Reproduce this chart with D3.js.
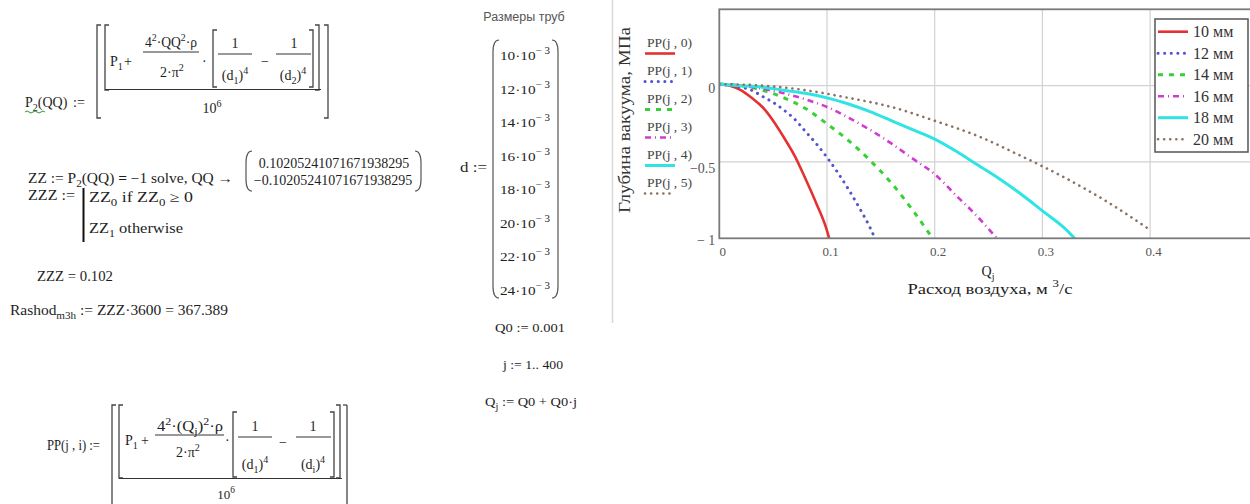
<!DOCTYPE html>
<html><head><meta charset="utf-8">
<script src="https://cdn.jsdelivr.net/npm/d3@7"></script>
<style>
body{margin:0;background:#fff}
svg{display:block}
text{font-family:"Liberation Serif","Times New Roman",serif;fill:#1e1e1e}
</style>
</head><body>
<svg id="c" width="1250" height="504"></svg>
<script>
// ---------- data ----------
const seriesNames = ["10 мм","12 мм","14 мм","16 мм","18 мм","20 мм"];
const traceLabels = ["PP(j , 0)","PP(j , 1)","PP(j , 2)","PP(j , 3)","PP(j , 4)","PP(j , 5)"];
const q_10 = [0,0.01,0.02,0.03,0.04,0.05,0.06,0.07,0.08,0.09,0.1,0.102];
const pp_10 = [0.01,0,-0.03,-0.08,-0.14,-0.23,-0.34,-0.46,-0.61,-0.77,-0.95,-1];
const q_12 = [0,0.01,0.02,0.03,0.04,0.05,0.06,0.07,0.08,0.09,0.1,0.11,0.12,0.13,0.14,0.1445];
const pp_12 = [0.01,0,-0.01,-0.03,-0.07,-0.11,-0.16,-0.22,-0.3,-0.38,-0.47,-0.57,-0.68,-0.8,-0.93,-1];
const q_14 = [0,0.02,0.04,0.06,0.08,0.1,0.12,0.14,0.16,0.18,0.198];
const pp_14 = [0.01,0,-0.03,-0.08,-0.15,-0.25,-0.36,-0.49,-0.64,-0.82,-1];
const q_16 = [0,0.02,0.04,0.06,0.08,0.1,0.12,0.14,0.16,0.18,0.2,0.22,0.24,0.2576];
const pp_16 = [0.01,0,-0.02,-0.05,-0.09,-0.14,-0.21,-0.29,-0.38,-0.48,-0.58,-0.72,-0.86,-1];
const q_18 = [0,0.02,0.04,0.06,0.08,0.1,0.12,0.14,0.16,0.18,0.2,0.22,0.24,0.26,0.28,0.3,0.32,0.33];
const pp_18 = [0.01,0,-0.01,-0.03,-0.05,-0.08,-0.12,-0.17,-0.23,-0.29,-0.35,-0.43,-0.52,-0.61,-0.71,-0.82,-0.93,-1];
const q_20 = [0,0.04,0.08,0.12,0.16,0.2,0.24,0.28,0.32,0.36,0.401];
const pp_20 = [0.01,0,-0.03,-0.08,-0.14,-0.23,-0.33,-0.46,-0.6,-0.76,-0.95];
const xTicks = [0,0.1,0.2,0.3,0.4];
const xTickLabels = ["0","0.1","0.2","0.3","0.4"];
const yTicks = [0,-0.5,-1];
const yTickLabels = ["0","\u22120.5","\u2212 1"];
const pipeSizes = ["10","12","14","16","18","20","22","24"];
const solveRoots = ["0.10205241071671938295","\u22120.10205241071671938295"];

const qs = [q_10,q_12,q_14,q_16,q_18,q_20];
const pps = [pp_10,pp_12,pp_14,pp_16,pp_18,pp_20];
const styles = [
  {c:"#e43232", w:2.6, d:null, cap:"butt"},
  {c:"#5454cc", w:3, d:"0.1,6.5", cap:"round"},
  {c:"#38d038", w:3, d:"5,6", cap:"butt"},
  {c:"#d03cd0", w:2.6, d:"6,4,1,4", cap:"butt"},
  {c:"#30e4e4", w:3, d:null, cap:"butt"},
  {c:"#8a7362", w:2.6, d:"0.1,6", cap:"round"}
];

const svg = d3.select("#c");

// ---------- helpers ----------
// parts: string or [string, mode]; mode 0 normal, 1 subscript, 2 superscript, 3 bold
function rich(x, y, parts, fs, anchor, len){
  fs = fs||14;
  const t = svg.append("text").attr("x",x).attr("y",y).attr("font-size",fs)
    .attr("text-anchor",anchor||"start");
  if (len) t.attr("textLength",len).attr("lengthAdjust","spacingAndGlyphs");
  let cur = 0;
  parts.forEach(p=>{
    const s = Array.isArray(p)?p[0]:p, m = Array.isArray(p)?p[1]:0;
    const off = m===1 ? fs*0.3 : m===2 ? -fs*0.45 : 0;
    const ts = t.append("tspan").text(s).attr("dy", off-cur);
    if (m===1 || m===2) ts.attr("font-size", fs*0.72);
    if (m===3) ts.attr("font-weight","bold");
    cur = off;
  });
  return t;
}
function hline(x1,x2,y,w){ svg.append("line").attr("x1",x1).attr("x2",x2).attr("y1",y).attr("y2",y)
  .attr("stroke","#333").attr("stroke-width",w||1); }
function brL(x,y1,y2,w){ svg.append("path").attr("d",`M${x+4},${y1}H${x}V${y2}H${x+4}`)
  .attr("fill","none").attr("stroke","#444").attr("stroke-width",w||1.3); }
function brR(x,y1,y2,w){ svg.append("path").attr("d",`M${x-4},${y1}H${x}V${y2}H${x-4}`)
  .attr("fill","none").attr("stroke","#444").attr("stroke-width",w||1.3); }
function parL(x,y1,y2){ svg.append("path").attr("d",`M${x+6},${y1}Q${x},${y1} ${x},${y1+12}V${y2-12}Q${x},${y2} ${x+6},${y2}`)
  .attr("fill","none").attr("stroke","#555").attr("stroke-width",1.2); }
function parR(x,y1,y2){ svg.append("path").attr("d",`M${x-6},${y1}Q${x},${y1} ${x},${y1+12}V${y2-12}Q${x},${y2} ${x-6},${y2}`)
  .attr("fill","none").attr("stroke","#555").attr("stroke-width",1.2); }

// ---------- block 1: P2(QQ) ----------
rich(25,107,["P",["2",1],"(QQ)"]);
rich(73,107,[":="]);
svg.append("path").attr("d","M25,112 q2,-2 4,0 t4,0 t4,0 t4,0 t4,0").attr("fill","none").attr("stroke","#2a9a2a").attr("stroke-width",1);
brL(97,25,118); brR(328,25,118);
brL(105,25,90); brR(319,25,90);
hline(105,321,89.5,1.2);
rich(110,66,["P",["1",1]]);
rich(124,66,["+"]);
rich(145,47,["4",["2",2],"·QQ",["2",2],"·ρ"],14,"start",52);
hline(143,199,52);
rich(160,77,["2·π",["2",2]]);
rich(202,66,["·"]);
brL(213,30,87); brR(313,30,87);
rich(235,48,["1"],14,"middle");
hline(218,252,54);
rich(235,80,["(d",["1",1],")",["4",2]],14,"middle");
rich(265,66,["\u2212"],14,"middle");
rich(294,48,["1"],14,"middle");
hline(276,311,54);
rich(293,80,["(d",["2",1],")",["4",2]],14,"middle");
rich(212,113,["10",["6",2]],14,"middle");

// ---------- block 2: solve ----------
rich(28,183,["ZZ := P",["2",1],"(QQ) ",["=",3]," \u22121 solve, QQ  \u2192"],14,"start",205);
parL(246,151,191); parR(421,151,191);
rich(334,168,[solveRoots[0]],14,"middle");
rich(333,185,[solveRoots[1]],14,"middle");
rich(28,200,["ZZZ :="],14,"start",47);
svg.append("line").attr("x1",83.5).attr("x2",83.5).attr("y1",188).attr("y2",242).attr("stroke","#111").attr("stroke-width",2);
rich(89,202,["ZZ",["0",1],"  if  ZZ",["0",1]," \u2265 0"],14,"start",104);
rich(89,233,["ZZ",["1",1],"  otherwise"],14,"start",94);
rich(37,281,["ZZZ = 0.102"],14,"start",76);
rich(10,315,["Rashod",["m3h",1]," := ZZZ·3600 = 367.389"],14,"start",218);

// ---------- block 3: pipe sizes ----------
svg.append("text").attr("x",524).attr("y",21).attr("font-size",12.5).attr("text-anchor","middle")
  .style("font-family","'Liberation Sans',Arial,sans-serif").style("fill","#555").text("Размеры труб");
rich(460,172,["d :="],14,"start",27);
parL(493,40,298); parR(558,40,298);
pipeSizes.forEach((s,i)=>{
  rich(500, 60+i*33.5, [s+"·10",["\u2212 3",2]], 13, "start", 50);
});
rich(495,332,["Q0 := 0.001"],13,"start",70);
rich(503,369,["j := 1.. 400"],13,"start",60);
rich(485,406,["Q",["j",1]," := Q0 + Q0·j"],13,"start",92);

// ---------- block 4: PP(j,i) ----------
rich(47,450,["PP(j , i) :="],14,"start",53);
brL(112,405,520);
brL(119,405,478); brR(340,405,478);
hline(119,342,478.5,1.2);
svg.append("path").attr("d","M347,405H343").attr("stroke","#444").attr("stroke-width",1.3);
svg.append("line").attr("x1",347).attr("x2",347).attr("y1",405).attr("y2",520).attr("stroke","#444").attr("stroke-width",1.3);
rich(125,445,["P",["1",1]]);
rich(141,445,["+"]);
rich(157,431,["4",["2",2],"·(Q",["j",1],")",["2",2],"·ρ"],14,"start",66);
hline(155,224,435);
rich(176,457,["2·π",["2",2]]);
rich(225,445,["·"]);
brL(233,412,477); brR(334,412,477);
rich(255,431,["1"],14,"middle");
hline(238,272,437);
rich(255,469,["(d",["1",1],")",["4",2]],14,"middle");
rich(283,447,["\u2212"],14,"middle");
rich(313,431,["1"],14,"middle");
hline(296,331,437);
rich(313,469,["(d",["i",1],")",["4",2]],14,"middle");
rich(226,499,["10",["6",2]],13,"middle");

// ---------- separator ----------
svg.append("line").attr("x1",612.5).attr("x2",612.5).attr("y1",0).attr("y2",323).attr("stroke","#d8d8d8").attr("stroke-width",1.5);

// ---------- chart ----------
const x = d3.scaleLinear().domain([0,0.5]).range([719.3,1257.8]);
const y = d3.scaleLinear().domain([-1,0.5]).range([238.3,9.3]);

const grid = svg.append("g");
grid.selectAll(".gx").data(xTicks.slice(1)).join("line")
  .attr("x1",d=>x(d)).attr("x2",d=>x(d)).attr("y1",y(0.5)).attr("y2",y(-1))
  .attr("stroke","#d2d2d2").attr("stroke-width",1.2);
grid.selectAll(".gy").data([0,-0.5]).join("line")
  .attr("x1",x(0)).attr("x2",x(0.5)).attr("y1",d=>y(d)).attr("y2",d=>y(d))
  .attr("stroke","#d2d2d2").attr("stroke-width",1.2);

svg.append("defs").append("clipPath").attr("id","pc").append("rect")
  .attr("x",x(0)).attr("y",y(0.5)).attr("width",x(0.5)-x(0)).attr("height",y(-1)-y(0.5));

const line = d3.line().x(d=>x(d[0])).y(d=>y(d[1])).curve(d3.curveMonotoneX);
const lg = svg.append("g").attr("clip-path","url(#pc)");
qs.forEach((q,i)=>{
  const pts = q.map((v,k)=>[v,pps[i][k]]);
  const st = styles[i];
  lg.append("path").attr("d",line(pts)).attr("fill","none").attr("stroke",st.c)
    .attr("stroke-width",st.w).attr("stroke-dasharray",st.d).attr("stroke-linecap",st.cap);
});

// frame
svg.append("rect").attr("x",x(0)).attr("y",y(0.5)).attr("width",x(0.5)-x(0)).attr("height",y(-1)-y(0.5))
  .attr("fill","none").attr("stroke","#7a7a7a").attr("stroke-width",1.8);

// axes
const ax = svg.append("g").attr("transform",`translate(3,${y(-1)})`)
  .call(d3.axisBottom(x).tickValues(xTicks).tickSize(0).tickPadding(8).tickFormat((d,i)=>xTickLabels[i]));
const ay = svg.append("g").attr("transform",`translate(${x(0)-2},2)`)
  .call(d3.axisLeft(y).tickValues(yTicks).tickSize(0).tickPadding(2).tickFormat((d,i)=>yTickLabels[i]));
[ax,ay].forEach(a=>{
  a.select(".domain").remove();
  a.selectAll("text").attr("font-size",13).style("font-family","'Liberation Serif',serif").style("fill","#555");
});
ay.selectAll("text").attr("font-size",14);
ay.selectAll("text").filter((d)=>d===-0.5).attr("dy","0.62em");

// axis titles
rich(988,276,["Q",["j",1]],14,"middle");
rich(990,294,["Расход воздуха, м ",["3",2],"/с"],15,"middle",165);
svg.append("text").attr("transform","translate(630,120) rotate(-90)").attr("text-anchor","middle")
  .attr("font-size",16).attr("textLength",186).attr("lengthAdjust","spacingAndGlyphs")
  .style("fill","#333").text("Глубина вакуума, МПа");

// trace labels
traceLabels.forEach((t,i)=>{
  const yy = 47 + i*28;
  svg.append("text").attr("x",647).attr("y",yy).attr("font-size",13).style("fill","#444")
    .attr("textLength",45).attr("lengthAdjust","spacingAndGlyphs").text(t);
  const st = styles[i];
  svg.append("line").attr("x1",645).attr("x2",675).attr("y1",yy+6.5).attr("y2",yy+6.5)
    .attr("stroke",st.c).attr("stroke-width",st.w).attr("stroke-dasharray",st.d).attr("stroke-linecap",st.cap);
});

// legend
const leg = svg.append("g");
leg.append("rect").attr("x",1155).attr("y",19).attr("width",93).attr("height",133)
  .attr("fill","#fff").attr("stroke","#555").attr("stroke-width",1.5);
seriesNames.forEach((n,i)=>{
  const yy = 31.7 + i*21.5;
  const st = styles[i];
  leg.append("line").attr("x1",1158).attr("x2",1188).attr("y1",yy).attr("y2",yy)
    .attr("stroke",st.c).attr("stroke-width",st.w).attr("stroke-dasharray",st.d).attr("stroke-linecap",st.cap);
  leg.append("text").attr("x",1193).attr("y",yy+5.5).attr("font-size",16).style("fill","#333").text(n);
});
</script>
</body></html>
